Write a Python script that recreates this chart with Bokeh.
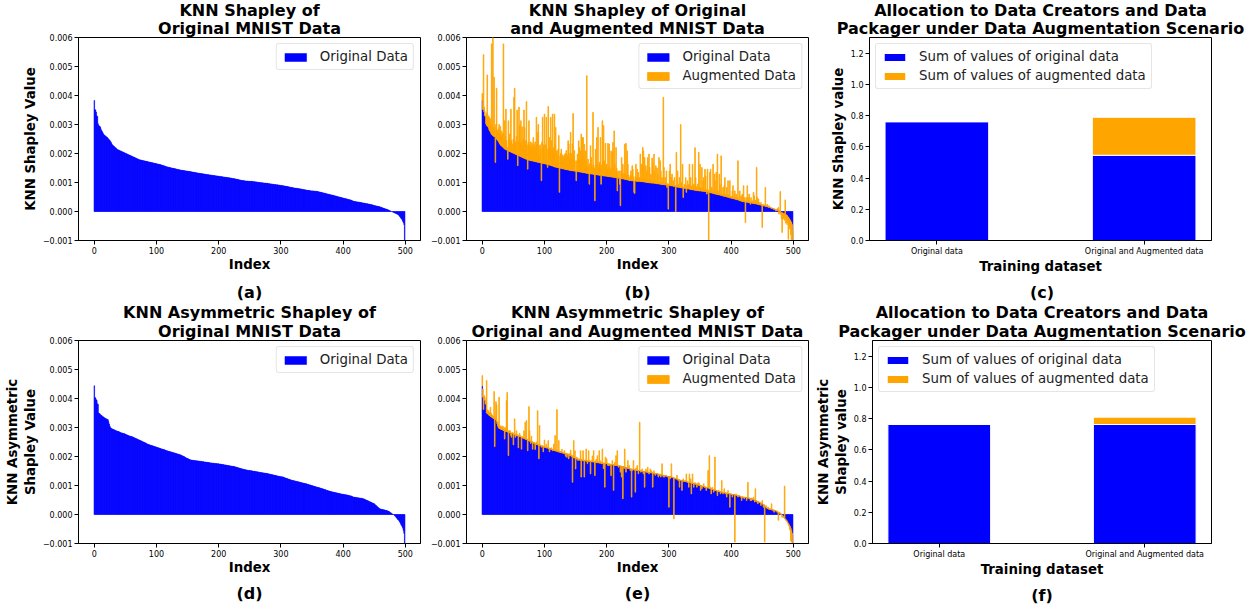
from bokeh.plotting import figure
from bokeh.layouts import row, column
from bokeh.models import (ColumnDataSource, Range1d, FixedTicker,
                          CustomJSTickFormatter, Title)
from bokeh.embed import file_html
from bokeh.resources import INLINE

# ---------------- data (values in units of 1e-5) ----------------
SCALE = 1e-5

# KNN Shapley of original MNIST data (sorted), panels (a) and (b)
shapley_orig_x1e5 = [
    383,352,350,343,330,328,303,297,295,293,290,282,278,275,270,266,264,262,260,258,257,255,252,250,247,
    245,242,238,234,230,228,226,224,222,220,218,216,214,213,212,211,210,209,208,207,206,205,204,203,202,
    201,200,199,198,197,196,195,194,193,192,191,190,189,188,187,186,185,184,183,182,181,180,179,178,178,
    177,177,176,176,175,175,174,174,173,173,172,172,171,171,170,170,169,169,168,168,167,167,166,166,165,
    165,164,164,163,163,162,162,161,160,160,159,158,158,157,156,155,154,154,153,153,152,152,151,151,150,
    150,149,149,148,148,147,147,146,146,145,145,144,144,143,143,142,142,142,141,141,141,140,140,140,139,
    139,139,138,138,138,137,137,136,136,136,135,135,134,134,134,133,133,132,132,132,131,131,131,130,130,
    130,129,129,129,128,128,128,127,127,127,126,126,126,125,125,125,124,124,124,123,123,123,122,122,122,
    122,121,121,121,120,120,120,119,119,119,118,118,118,117,117,117,116,116,116,115,115,115,114,114,113,
    113,113,112,112,111,111,110,110,109,109,108,108,107,107,107,106,106,106,105,105,105,105,105,104,104,
    104,104,104,104,104,103,103,103,103,102,102,102,101,101,101,100,100,100,99,99,99,99,98,98,98,
    98,98,97,97,97,96,96,96,95,95,95,94,94,94,93,93,93,92,92,92,92,91,91,91,90,
    90,90,89,89,89,88,88,87,87,87,86,86,85,85,84,84,83,83,83,82,82,81,81,81,80,
    80,80,79,79,79,78,78,78,77,77,76,76,75,75,75,74,74,73,73,73,72,72,72,71,71,
    71,71,71,70,70,70,70,70,69,69,68,68,67,67,66,66,65,65,64,64,63,63,62,61,61,
    60,60,59,59,58,58,57,57,56,56,55,54,54,53,53,52,52,51,50,50,49,49,48,47,47,
    46,46,45,45,44,44,43,42,42,41,41,40,40,39,38,37,36,35,35,34,34,34,33,33,33,
    32,32,32,31,31,30,30,29,29,29,28,28,27,27,27,26,26,25,25,24,24,23,23,22,21,
    21,20,20,19,19,18,18,17,17,16,15,15,14,13,12,11,10,10,9,8,8,7,6,5,4,
    3,2,1,0,-1,-2,-3,-4,-5,-6,-7,-8,-9,-10,-12,-14,-17,-20,-23,-26,-30,-34,-38,-45,-100,
]

# KNN Shapley of augmented data, panel (b)
shapley_aug_x1e5 = [
    407,380,541,360,345,330,330,340,471,320,330,325,310,320,300,578,300,610,290,463,290,169,300,425,280,
    275,285,300,270,293,260,278,255,270,578,250,313,260,353,245,220,180,313,250,267,240,353,245,215,233,
    250,394,425,240,220,260,350,158,240,360,296,235,313,240,292,230,250,350,290,235,245,379,230,146,240,
    313,230,220,240,220,235,225,255,230,220,240,215,325,230,273,300,225,192,230,215,106,240,325,220,230,
    336,175,230,325,215,152,362,220,255,215,325,244,210,336,220,200,336,230,290,205,210,195,215,262,66,
    190,200,215,185,195,175,190,197,180,200,210,185,195,244,233,180,200,273,185,200,233,338,190,210,175,
    140,106,175,198,180,244,220,175,210,267,180,255,255,190,232,170,209,175,468,160,180,155,94,165,227,
    186,160,150,342,160,150,37,215,160,255,170,290,150,163,170,255,94,160,313,170,296,175,150,235,160,
    163,145,235,150,233,152,140,209,150,204,238,150,278,163,140,221,150,71,140,117,140,94,20,140,186,
    135,163,130,129,232,130,235,125,209,163,125,117,106,125,140,120,158,146,120,66,62,120,163,118,146,
    118,135,115,117,198,115,163,112,221,209,110,186,112,158,140,108,186,110,198,152,108,129,108,184,169,
    105,198,140,104,158,102,150,129,100,186,100,175,140,100,117,98,394,152,98,117,96,140,83,96,8,
    95,140,163,92,117,129,92,106,90,117,90,0,204,88,140,94,86,117,86,300,100,84,163,48,84,
    94,80,117,66,90,106,85,94,163,90,117,88,83,163,86,94,82,220,117,85,77,94,80,204,82,
    163,83,80,152,78,106,117,76,146,123,75,60,146,74,-100,72,135,146,70,83,70,163,68,129,106,
    66,135,66,198,71,64,129,94,62,192,60,60,83,58,89,117,57,60,83,56,106,54,60,106,52,
    48,52,71,89,50,48,71,47,60,45,48,175,44,37,71,42,54,40,60,38,89,48,37,-38,48,
    36,89,35,48,60,34,25,48,33,37,31,66,54,30,39,28,152,48,28,43,31,27,25,31,24,
    -55,23,25,20,22,83,20,20,25,18,14,20,15,14,12,12,12,11,8,8,7,5,2,4,8,
    10,14,-9,5,69,-10,-26,-72,-15,-26,-21,-30,40,-40,-26,-45,-35,-96,-40,-60,-50,-80,-100,-70,-65,
]

# KNN Asymmetric Shapley of original data (sorted), panels (d) and (e)
asym_orig_x1e5 = [
    444,404,402,396,394,382,380,350,348,347,344,342,341,339,337,336,334,333,331,330,329,328,327,320,312,
    305,300,297,296,295,294,293,292,291,290,289,288,287,287,286,285,284,283,282,281,281,280,279,279,278,
    277,276,275,274,273,272,271,271,270,269,269,268,267,266,265,264,263,262,261,260,259,258,257,256,255,
    254,253,252,251,250,249,248,247,246,245,243,242,242,241,240,239,239,238,237,237,236,235,234,234,233,
    232,231,231,230,229,229,228,227,226,226,225,224,224,223,222,221,220,220,219,218,218,217,216,216,215,
    215,214,213,213,212,211,211,210,209,209,208,207,207,206,205,204,203,202,201,200,199,197,196,195,194,
    193,192,191,190,189,188,188,187,187,187,186,186,186,185,185,185,185,184,184,184,184,183,183,183,182,
    182,182,181,181,181,180,180,180,179,179,179,178,178,178,177,177,177,177,176,176,176,176,175,175,175,
    175,174,174,174,173,173,172,172,172,171,171,171,170,170,169,169,169,168,168,167,167,167,166,166,166,
    165,165,164,163,163,162,161,161,160,159,159,158,158,157,156,156,155,155,154,154,153,153,152,152,152,
    152,151,151,151,150,150,149,149,149,148,148,147,147,147,146,146,145,145,145,144,144,144,143,143,143,
    142,142,142,141,141,140,140,139,139,138,138,137,137,136,136,135,135,134,134,133,133,132,132,131,131,
    130,130,130,129,129,128,127,126,125,125,124,123,122,122,121,120,119,119,118,117,117,116,116,115,115,
    114,114,113,113,112,112,111,110,110,109,109,108,108,107,107,106,106,105,104,104,103,102,102,101,100,
    100,99,98,98,97,96,96,95,94,94,93,93,92,91,91,90,89,89,88,87,86,86,85,84,83,
    83,82,81,81,80,79,79,78,78,77,77,76,76,75,75,74,74,73,73,72,72,71,71,70,70,
    70,69,69,68,68,68,67,67,66,66,65,65,64,64,63,62,60,60,60,59,59,59,58,58,58,
    57,57,57,56,56,56,55,54,54,53,52,51,50,49,48,47,46,45,44,43,42,41,40,39,38,
    37,35,33,31,29,27,25,23,21,20,19,18,18,17,17,16,16,15,15,14,14,13,12,11,10,
    8,7,5,4,2,1,0,-2,-4,-6,-9,-12,-15,-17,-19,-22,-26,-30,-34,-38,-42,-47,-55,-65,-100,
]

# KNN Asymmetric Shapley of augmented data, panel (e)
asym_aug_x1e5 = [
    479,433,362,410,405,395,393,462,360,360,355,350,352,370,350,345,342,340,338,424,234,335,389,379,320,
    318,310,404,305,300,306,300,298,305,295,300,260,296,300,393,421,290,203,288,290,287,272,266,283,282,
    240,280,330,266,278,289,276,274,230,273,280,272,270,225,268,267,265,289,264,318,262,324,260,220,258,
    372,289,256,245,270,252,225,250,245,248,224,246,250,243,358,242,192,307,240,239,232,238,237,216,236,
    257,234,233,243,232,231,255,230,216,228,227,230,226,220,225,243,223,272,222,221,362,220,216,255,218,
    217,216,216,225,215,210,214,220,212,201,211,197,210,209,192,209,208,222,205,204,111,203,255,200,220,
    157,195,198,194,186,192,190,192,220,129,190,190,220,188,129,188,188,226,187,175,186,220,186,185,140,
    185,184,202,183,220,182,134,183,190,181,203,182,181,220,180,185,179,175,226,178,158,178,94,198,177,
    192,176,169,169,175,169,174,134,173,186,172,83,172,180,171,203,170,220,169,163,168,169,146,167,129,
    166,54,165,158,226,163,146,162,160,186,160,169,158,151,157,60,151,156,186,155,154,77,160,153,169,
    153,140,152,318,151,146,150,157,150,140,149,94,148,157,148,147,163,146,140,145,157,145,151,144,94,
    143,151,143,135,142,141,140,141,129,140,135,139,129,137,175,136,129,135,129,134,133,135,132,129,131,
    25,131,123,130,175,129,129,128,-15,126,125,123,124,135,122,117,121,94,119,117,118,83,117,123,116,
    115,117,114,140,113,111,112,94,140,111,123,71,109,140,108,94,107,110,105,106,94,104,110,102,106,
    101,83,99,89,98,96,106,94,96,95,83,93,94,152,92,203,90,94,71,89,94,86,77,87,198,
    84,83,82,65,81,83,80,79,71,78,117,77,71,76,89,75,71,75,60,74,83,72,73,25,71,
    71,70,60,69,69,68,-95,67,71,67,66,60,65,66,64,60,61,48,61,60,60,54,59,60,58,
    48,58,111,57,54,56,48,56,48,54,53,60,50,43,89,47,43,46,37,44,43,43,41,31,39,
    48,36,25,34,-95,28,31,25,25,22,25,19,19,20,18,37,17,14,16,8,15,14,13,12,8,
    9,-20,8,8,3,2,1,-10,-3,-8,-8,98,-14,-20,-21,-25,-28,-35,-38,-50,-55,-90,-95,-95,-90,
]

# Allocation panels (c) and (f)
bar_categories = ["Original data", "Original and Augmented data"]
alloc_shapley_orig = [0.761, 0.546]
alloc_shapley_aug = [0.0, 0.243]
alloc_asym_orig = [0.762, 0.762]
alloc_asym_aug = [0.0, 0.047]

value_ticks = [-0.001, 0.0, 0.001, 0.002, 0.003, 0.004, 0.005, 0.006]
index_ticks = [0, 100, 200, 300, 400, 500]
alloc_ticks = [0.0, 0.2, 0.4, 0.6, 0.8, 1.0, 1.2]

# ---------------- styling helpers ----------------
FONT = "DejaVu Sans"
BLUE = "#0000ff"
ORANGE = "#ffa500"
COLS = [(425, 78, 5), (387, 41, 4), (446, 57, 47)]   # width, left, right
ROWS = [(279, 37, 39), (330, 61, 66)]               # height, top, bottom


def make_fig(ci, ri, x_range, y_range):
    w, l, r = COLS[ci]
    h, t, b = ROWS[ri]
    p = figure(width=w, height=h, min_border_left=l, min_border_right=r,
               min_border_top=t, min_border_bottom=b, title=None,
               x_range=x_range, y_range=y_range,
               output_backend="svg", toolbar_location=None)
    p.grid.visible = False
    p.outline_line_color = "black"
    p.outline_line_width = 1
    p.outline_line_alpha = 1
    p.background_fill_color = "white"
    p.border_fill_color = "white"
    for ax in (p.xaxis[0], p.yaxis[0]):
        ax.axis_line_color = "black"
        ax.major_tick_line_color = "black"
        ax.major_tick_out = 4
        ax.major_tick_in = 0
        ax.minor_tick_line_color = None
        ax.major_label_text_font = FONT
        ax.major_label_text_font_size = "8px"
        ax.major_label_text_color = "black"
        ax.major_label_standoff = 2
        ax.axis_label_text_font = FONT
        ax.axis_label_text_font_size = "13.33px"
        ax.axis_label_text_font_style = "bold"
        ax.axis_label_text_color = "black"
    p.xaxis[0].axis_label_standoff = 0
    p.yaxis[0].axis_label_standoff = 2
    return p


def title(text, standoff, size="16px"):
    return Title(text=text, align="center", text_font=FONT, text_font_size=size,
                 text_font_style="bold", text_color="black", standoff=standoff,
                 offset=0)


def decorate(p, ri, title_lines, xlabel, own_caption, upper_caption, ylabel):
    if ri == 0:
        p.add_layout(title(title_lines[1], -1), "above")
        p.add_layout(title(title_lines[0], -5), "above")
    else:
        p.add_layout(title(title_lines[1], 0), "above")
        p.add_layout(title(title_lines[0], -4), "above")
        # caption of the panel above, sitting between the two rows
        p.add_layout(title(upper_caption, 1), "above")
        p.add_layout(title(own_caption, 8), "below")
    p.xaxis[0].axis_label = xlabel
    if ylabel:
        p.yaxis[0].axis_label = ylabel


def style_legend(p, location):
    lg = p.legend[0]
    lg.location = location
    lg.label_text_font = FONT
    lg.label_text_font_size = "13.33px"
    lg.label_text_color = "#222222"
    lg.glyph_width = 27
    lg.glyph_height = 10
    lg.label_standoff = 11
    lg.label_height = 14
    lg.padding = 5
    lg.spacing = 4
    lg.margin = 6
    lg.border_line_color = "#cccccc"
    lg.border_line_width = 1
    lg.background_fill_alpha = 0.8
    if "border_radius" in lg.properties():
        lg.border_radius = 3


small_fmt = CustomJSTickFormatter(
    code="return tick < 0 ? '\\u2212' + (-tick).toFixed(3) : tick.toFixed(3);")
int_fmt = CustomJSTickFormatter(code="return tick.toFixed(0);")
one_fmt = CustomJSTickFormatter(code="return tick.toFixed(1);")
cat_fmt = CustomJSTickFormatter(args=dict(labels=bar_categories),
                                code="return labels[Math.round(tick)];")


def index_panel(ci, ri, orig, aug, title_lines, caption, upper_caption, ylabel):
    p = make_fig(ci, ri, Range1d(-25.4, 524.4), Range1d(-0.001, 0.006))
    n = len(orig)
    src = ColumnDataSource(dict(x=list(range(n)), orig=[v * SCALE for v in orig]))
    p.vbar(x="x", width=1.0, bottom=0, top="orig", source=src,
           fill_color=BLUE, line_color=BLUE, line_width=0.5,
           legend_label="Original Data")
    if aug is not None:
        m = min(n, len(aug))
        asrc = ColumnDataSource(dict(x=list(range(m)),
                                     orig=[v * SCALE for v in orig[:m]],
                                     aug=[v * SCALE for v in aug[:m]]))
        p.vbar(x="x", width=1.0, bottom="orig", top="aug", source=asrc,
               fill_color=ORANGE, line_color=ORANGE, line_width=0.8,
               legend_label="Augmented Data")
    p.yaxis[0].ticker = FixedTicker(ticks=value_ticks)
    p.yaxis[0].formatter = small_fmt
    p.xaxis[0].ticker = FixedTicker(ticks=index_ticks)
    p.xaxis[0].formatter = int_fmt
    style_legend(p, "top_right")
    decorate(p, ri, title_lines, "Index", caption, upper_caption, ylabel)
    return p


def alloc_panel(ci, ri, orig, aug, caption, upper_caption, ylabel):
    p = make_fig(ci, ri, Range1d(-0.325, 1.325), Range1d(0, 1.3))
    tops = [o + a for o, a in zip(orig, aug)]
    src = ColumnDataSource(dict(x=[0, 1], orig=orig, top=tops))
    p.vbar(x="x", width=0.5, bottom=0, top="orig", source=src,
           fill_color=BLUE, line_color="white", line_width=1,
           legend_label="Sum of values of original data")
    p.vbar(x="x", width=0.5, bottom="orig", top="top", source=src,
           fill_color=ORANGE, line_color="white", line_width=1,
           legend_label="Sum of values of augmented data")
    p.yaxis[0].ticker = FixedTicker(ticks=alloc_ticks)
    p.yaxis[0].formatter = one_fmt
    p.xaxis[0].ticker = FixedTicker(ticks=[0, 1])
    p.xaxis[0].formatter = cat_fmt
    style_legend(p, "top_left")
    decorate(p, ri, ["Allocation to Data Creators and Data",
                     "Packager under Data Augmentation Scenario"],
             "Training dataset", caption, upper_caption, ylabel)
    return p


pa = index_panel(0, 0, shapley_orig_x1e5, None,
                 ["KNN Shapley of", "Original MNIST Data"], "(a)", None,
                 "KNN Shapley Value")
pb = index_panel(1, 0, shapley_orig_x1e5, shapley_aug_x1e5,
                 ["KNN Shapley of Original", "and Augmented MNIST Data"], "(b)", None,
                 None)
pc = alloc_panel(2, 0, alloc_shapley_orig, alloc_shapley_aug, "(c)", None,
                 "KNN Shapley value")
pd_ = index_panel(0, 1, asym_orig_x1e5, None,
                  ["KNN Asymmetric Shapley of", "Original MNIST Data"], "(d)", "(a)",
                  "KNN Asymmetric\nShapley Value")
pe = index_panel(1, 1, asym_orig_x1e5, asym_aug_x1e5,
                 ["KNN Asymmetric Shapley of", "Original and Augmented MNIST Data"],
                 "(e)", "(b)", None)
pf = alloc_panel(2, 1, alloc_asym_orig, alloc_asym_aug, "(f)", "(c)",
                 "KNN Asymmetric\nShapley value")

layout = column(row(pa, pb, pc), row(pd_, pe, pf))

open("out.html", "w").write(file_html(layout, INLINE))
